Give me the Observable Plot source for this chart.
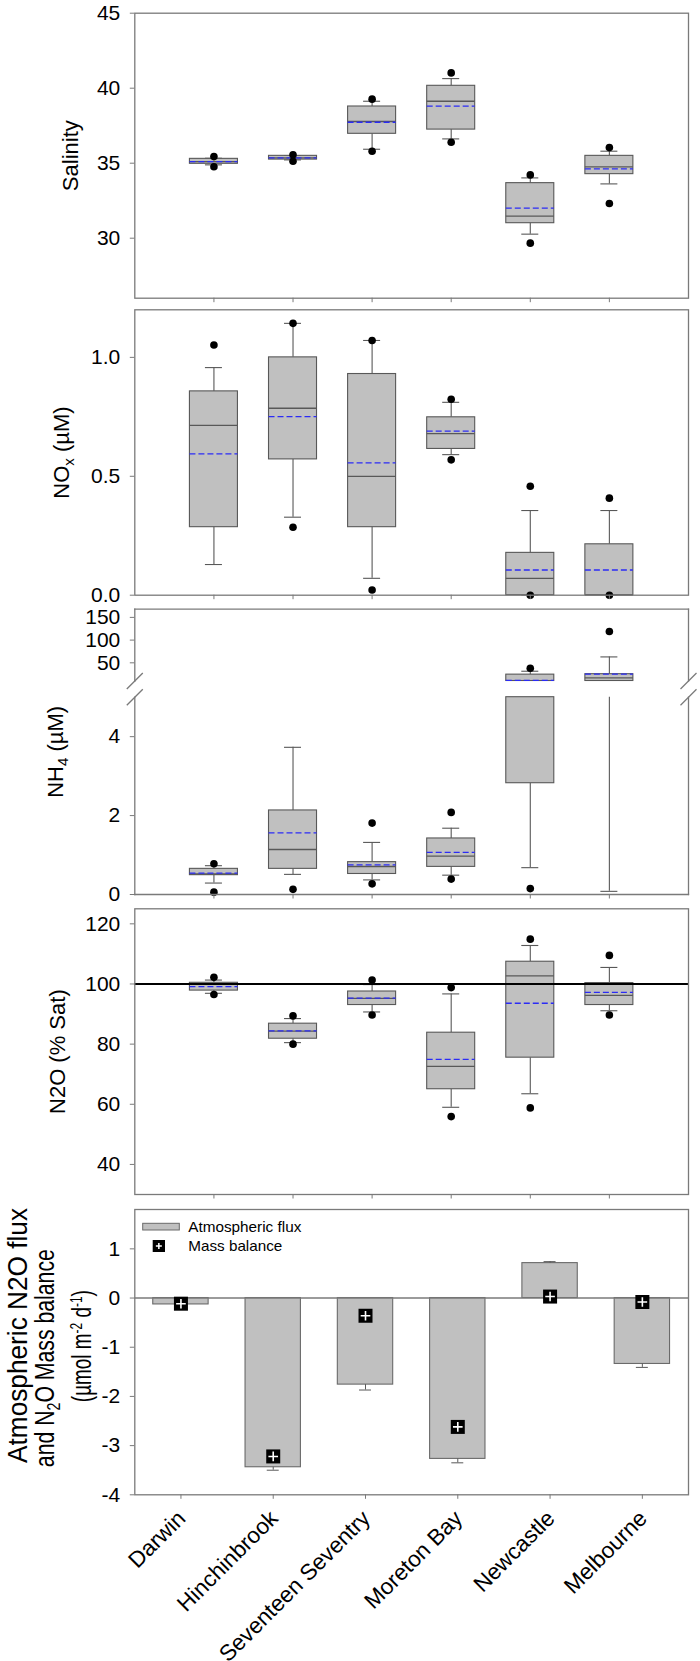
<!DOCTYPE html>
<html><head><meta charset="utf-8">
<script src="https://cdn.jsdelivr.net/npm/d3@7"></script>
<script src="https://cdn.jsdelivr.net/npm/@observablehq/plot@0.6"></script>
<style>
body{margin:0;background:#fff;}
#chart{position:relative;width:700px;height:1661px;}
#chart > svg{position:absolute;left:0;overflow:visible;background:none;}
</style></head><body><div id="chart"></div>
<script>
// ---------- data ----------
const sites = ["Darwin", "Hinchinbrook", "Seventeen Seventry", "Moreton Bay", "Newcastle", "Melbourne"];
// per site: [whisker low, Q1, median, Q3, whisker high, mean]
const salinityStats = [
  [34.89, 34.96, 35.11, 35.29, 35.33, 35.10],
  [35.22, 35.24, 35.36, 35.49, 35.51, 35.36],
  [35.93, 36.96, 37.78, 38.78, 39.13, 37.73],
  [36.62, 37.24, 39.13, 40.16, 40.64, 38.80],
  [30.27, 31.00, 31.47, 33.67, 34.02, 32.00],
  [33.62, 34.27, 34.76, 35.49, 35.80, 34.62]
];
const salinityOutliers = [[35.44, 34.76], [35.56, 35.13], [39.27, 35.80], [41.02, 36.40], [34.22, 29.67], [36.04, 32.31]];
const noxStats = [
  [0.129, 0.286, 0.714, 0.857, 0.957, 0.594],
  [0.328, 0.571, 0.786, 1.000, 1.143, 0.751],
  [0.071, 0.286, 0.500, 0.930, 1.071, 0.556],
  [0.591, 0.615, 0.679, 0.748, 0.811, 0.690],
  [0.000, 0.000, 0.071, 0.178, 0.356, 0.106],
  [0.000, 0.000, 0.000, 0.214, 0.356, 0.106]
];
const noxOutliers = [[1.052], [1.143, 0.286], [1.071, 0.022], [0.824, 0.569], [0.458, 0], [0.408, 0]];
const nh4Stats = [
  [0.29, 0.49, 0.52, 0.65, 0.73, 0.54],
  [0.51, 0.65, 1.14, 2.13, 3.73, 1.56],
  [0.37, 0.52, 0.71, 0.82, 1.32, 0.75],
  [0.49, 0.70, 0.97, 1.42, 1.68, 1.07],
  [0.68, 2.82, 7.0, 24.0, 31.5, 11.5],
  [0.08, 8.0, 17.0, 25.0, 63.0, 25.0]
];
const nh4Outliers = [[0.78, 0.06], [0.13], [1.81, 0.27], [2.08, 0.39], [38, 0.15], [119]];
const n2oStats = [
  [96.9, 97.8, 100.0, 100.4, 101.3, 99.1],
  [80.5, 81.8, 84.3, 86.8, 88.5, 84.4],
  [90.7, 93.0, 95.2, 97.5, 99.8, 95.3],
  [59.0, 65.0, 72.6, 83.8, 96.7, 74.9],
  [63.5, 75.5, 102.7, 107.4, 112.8, 93.6],
  [91.1, 93.0, 96.2, 100.3, 105.5, 97.2]
];
const n2oOutliers = [[102.2, 96.5], [89.4, 80.0], [101.3, 89.7], [98.8, 55.9], [114.9, 58.8], [109.5, 89.7]];
const atmFlux = [-0.13, -3.44, -1.76, -3.27, 0.71, -1.34];
const atmFluxSE = [0.02, 0.06, 0.11, 0.08, 0.03, 0.07];
const massBalance = [-0.115, -3.22, -0.36, -2.62, 0.03, -0.08];
const salinityTicks = [30, 35, 40, 45];
const noxTicks = [0, 0.5, 1.0];
const nh4UpperTicks = [50, 100, 150];
const nh4LowerTicks = [0, 2, 4];
const n2oTicks = [40, 60, 80, 100, 120];
const fluxTicks = [-4, -3, -2, -1, 0, 1];

// ---------- styles ----------
const FONT = '"Liberation Sans", Arial, Helvetica, sans-serif';
const GRAY = "#7a7a7a";
const BOXFILL = "#c0c0c0";
const BOXSTROKE = "#585858";
const BLUE = "#2b2bf5";
const chart = document.getElementById("chart");
const baseStyle = {fontFamily: FONT, fontSize: "21px", color: "black", overflow: "visible", background: "none"};
const plain = d => String(d);

function rows(stats, outs) {
  return sites.map((site, i) => ({site, wLo: stats[i][0], q1: stats[i][1], med: stats[i][2], q3: stats[i][3], wHi: stats[i][4], mean: stats[i][5], out: outs[i]}));
}

function boxMarks(data, lo = -Infinity, hi = Infinity) {
  const inR = v => v >= lo && v <= hi;
  const seg = (a, b) => { const s = Math.max(a, lo), e = Math.min(b, hi); return s < e ? [s, e] : null; };
  const boxes = data.map(r => ({site: r.site, s: seg(r.q1, r.q3)})).filter(d => d.s);
  const whisk = data.flatMap(r => [seg(r.wLo, r.q1), seg(r.q3, r.wHi)].filter(Boolean).map(s => ({site: r.site, s})));
  const caps = data.flatMap(r => [r.wLo, r.wHi].filter(inR).map(v => ({site: r.site, v})));
  const meds = data.filter(r => inR(r.med));
  const means = data.filter(r => inR(r.mean));
  const outs = data.flatMap(r => r.out.filter(inR).map(v => ({site: r.site, v})));
  return [
    Plot.ruleX(whisk, {x: "site", y1: d => d.s[0], y2: d => d.s[1], stroke: BOXSTROKE, strokeWidth: 1.1}),
    Plot.tickY(caps, {x: "site", y: "v", stroke: BOXSTROKE, strokeWidth: 1.1, insetLeft: 15.5, insetRight: 15.5}),
    Plot.barY(boxes, {x: "site", y1: d => d.s[0], y2: d => d.s[1], fill: BOXFILL, stroke: BOXSTROKE, strokeWidth: 1.1}),
    Plot.tickY(meds, {x: "site", y: "med", stroke: BOXSTROKE, strokeWidth: 1.3}),
    Plot.tickY(means, {x: "site", y: "mean", stroke: BLUE, strokeWidth: 1.3, strokeDasharray: "6,3"}),
    Plot.dot(outs, {x: "site", y: "v", r: 3.8, fill: "black"})
  ];
}

const boxX = {type: "band", domain: sites, paddingInner: 0.393, paddingOuter: 0.697, round: false};
const yAxis = (ticks, fmt = plain) => Plot.axisY({ticks, tickFormat: fmt, tickSize: 4.5, tickPadding: 10, stroke: GRAY, label: null, fontSize: 21});
const xTicksOnly = () => Plot.axisX({tickSize: 4.5, tickFormat: () => "", stroke: GRAY, label: null});
const yTitle = (t, dx, dy = 0, fontSize = 22) => Plot.text([t], {frameAnchor: "left", dx, dy, rotate: -90, textAnchor: "middle", lineAnchor: "bottom", fontSize});
const slash = {draw(ctx, size) { const h = Math.sqrt(size / Math.PI); ctx.moveTo(-h, h); ctx.lineTo(h, -h); }};
const breakMark = a => Plot.dot([0], {frameAnchor: a, symbol: slash, r: 8, stroke: GRAY, fill: "none", strokeWidth: 1.3});

function place(svg, top) {
  svg.querySelectorAll("text").forEach(t => { if (t.textContent === "") t.remove(); });
  svg.style.top = top + "px"; chart.appendChild(svg); return svg;
}
function rich(svg, txt, html, len) {
  svg.querySelectorAll("text").forEach(t => {
    if (t.textContent !== txt) return;
    if (html) t.innerHTML = html;
    if (len) { t.setAttribute("textLength", len); t.setAttribute("lengthAdjust", "spacingAndGlyphs"); }
  });
}
// sub/superscript pieces shifted with dy and shifted back afterwards
const sub = (s, fs, d) => `<tspan dy="${d}" font-size="${fs}">${s}</tspan>`;

// ---------- panel 1: salinity ----------
place(Plot.plot({
  width: 700, height: 304, marginLeft: 134.3, marginRight: 12, marginTop: 12.7, marginBottom: 6.3,
  style: baseStyle, x: boxX, y: {domain: [26, 45]},
  marks: [
    ...boxMarks(rows(salinityStats, salinityOutliers)),
    Plot.frame({stroke: GRAY, strokeWidth: 1.3}),
    yAxis(salinityTicks), xTicksOnly(),
    yTitle("Salinity", -56.7)
  ]
}), 0);

// ---------- panel 2: NOx ----------
const p2 = place(Plot.plot({
  width: 700, height: 296, marginLeft: 134.3, marginRight: 12, marginTop: 5.3, marginBottom: 5.3,
  style: baseStyle, x: boxX, y: {domain: [0, 1.2]},
  marks: [
    ...boxMarks(rows(noxStats, noxOutliers)),
    Plot.frame({stroke: GRAY, strokeWidth: 1.3}),
    yAxis(noxTicks, d3.format(".1f")),
    xTicksOnly(),
    yTitle("NOx (µM)", -65.7)
  ]
}), 304);
rich(p2, "NOx (µM)", "NO" + sub("x", 15, 5) + sub(" (µM)", 22, -5));

// ---------- panel 3: NH4 (broken axis) ----------
const nh4 = rows(nh4Stats, nh4Outliers);
place(Plot.plot({
  width: 700, height: 90, marginLeft: 134.3, marginRight: 12, marginTop: 8.7, marginBottom: 9.5,
  style: baseStyle, x: {...boxX, axis: null}, y: {domain: [10, 168]},
  marks: [
    ...boxMarks(nh4, 10, 168),
    Plot.frame({anchor: "top", stroke: GRAY, strokeWidth: 1.3}),
    Plot.frame({anchor: "left", stroke: GRAY, strokeWidth: 1.3}),
    Plot.frame({anchor: "right", stroke: GRAY, strokeWidth: 1.3}),
    breakMark("bottom-left"), breakMark("bottom-right"),
    yAxis(nh4UpperTicks)
  ]
}), 600);
const p3 = place(Plot.plot({
  width: 700, height: 210, marginLeft: 134.3, marginRight: 12, marginTop: 6.7, marginBottom: 6,
  style: baseStyle, x: boxX, y: {domain: [0, 5]},
  marks: [
    ...boxMarks(nh4, 0, 5),
    Plot.frame({anchor: "bottom", stroke: GRAY, strokeWidth: 1.3}),
    Plot.frame({anchor: "left", stroke: GRAY, strokeWidth: 1.3}),
    Plot.frame({anchor: "right", stroke: GRAY, strokeWidth: 1.3}),
    breakMark("top-left"), breakMark("top-right"),
    yAxis(nh4LowerTicks), xTicksOnly(),
    yTitle("NH4 (µM)", -72.3, -44)
  ]
}), 690);
rich(p3, "NH4 (µM)", "NH" + sub("4", 15, 5) + sub(" (µM)", 22, -5));

// ---------- panel 4: N2O ----------
place(Plot.plot({
  width: 700, height: 300, marginLeft: 134.3, marginRight: 12, marginTop: 8.3, marginBottom: 6,
  style: baseStyle, x: boxX, y: {domain: [30, 125]},
  marks: [
    ...boxMarks(rows(n2oStats, n2oOutliers)),
    Plot.ruleY([100], {stroke: "black", strokeWidth: 2.2}),
    Plot.frame({stroke: GRAY, strokeWidth: 1.3}),
    yAxis(n2oTicks), xTicksOnly(),
    yTitle("N2O (% Sat)", -69.5)
  ]
}), 900);

// ---------- panel 5: fluxes ----------
const flux = sites.map((site, i) => ({site, flux: atmFlux[i], errEnd: atmFlux[i] + Math.sign(atmFlux[i]) * atmFluxSE[i], mass: massBalance[i]}));
const p5 = place(Plot.plot({
  width: 700, height: 461, marginLeft: 134.3, marginRight: 12, marginTop: 9, marginBottom: 166.7,
  style: baseStyle,
  x: {type: "band", domain: sites, paddingInner: 0.4, paddingOuter: 0.2, round: false},
  y: {domain: [-4, 1.8]},
  marks: [
    Plot.barY(flux, {x: "site", y: "flux", fill: BOXFILL, stroke: "#6a6a6a", strokeWidth: 1.1}),
    Plot.ruleX(flux, {x: "site", y1: "flux", y2: "errEnd", stroke: BOXSTROKE}),
    Plot.tickY(flux, {x: "site", y: "errEnd", stroke: BOXSTROKE, insetLeft: 21.7, insetRight: 21.7}),
    Plot.ruleY([0], {stroke: GRAY, strokeWidth: 1.5}),
    Plot.dot(flux, {x: "site", y: "mass", symbol: "square", r: 7.9, fill: "black"}),
    Plot.dot(flux, {x: "site", y: "mass", symbol: "plus", r: 3.2, stroke: "white", fill: "none", strokeWidth: 1.6}),
    Plot.frame({stroke: GRAY, strokeWidth: 1.3}),
    yAxis(fluxTicks),
    xTicksOnly(),
    Plot.text(sites, {x: d => d, frameAnchor: "bottom", rotate: -45, textAnchor: "end", lineAnchor: "bottom", dx: 6, dy: 25, fontSize: 22.5}),
    yTitle("Atmospheric N2O flux", -108, -16.7, 27),
    yTitle("and N2O Mass balance", -81, 6, 27),
    yTitle("(µmol m-2 d-1)", -43.5, -6, 27)
  ]
}), 1200);
rich(p5, "Atmospheric N2O flux", null, 255);
rich(p5, "and N2O Mass balance", "and N" + sub("2", 18, 6) + sub("O Mass balance", 27, -6), 218);
rich(p5, "(µmol m-2 d-1)", "(µmol m" + sub("-2", 17, -9) + sub(" d", 27, 9) + sub("-1", 17, -9) + sub(")", 27, 9), 112);

// ---------- legend (panel 5) ----------
const leg = d3.select(chart).append("svg").attr("width", 700).attr("height", 70).style("top", "1200px");
leg.append("rect").attr("x", 142.7).attr("y", 23.3).attr("width", 36.6).attr("height", 6.7).attr("fill", BOXFILL).attr("stroke", "#6a6a6a");
leg.append("text").attr("x", 188.3).attr("y", 31.5).attr("font-family", FONT).attr("font-size", 14.5)
  .attr("textLength", 113).attr("lengthAdjust", "spacingAndGlyphs").text("Atmospheric flux");
leg.append("rect").attr("x", 152.7).attr("y", 40).attr("width", 12.3).attr("height", 12).attr("fill", "black");
leg.append("path").attr("d", "M158.85,43 V49 M155.85,46 H161.85").attr("stroke", "white").attr("stroke-width", 1.5);
leg.append("text").attr("x", 188.3).attr("y", 50.5).attr("font-family", FONT).attr("font-size", 14.5)
  .attr("textLength", 94).attr("lengthAdjust", "spacingAndGlyphs").text("Mass balance");
</script></body></html>
